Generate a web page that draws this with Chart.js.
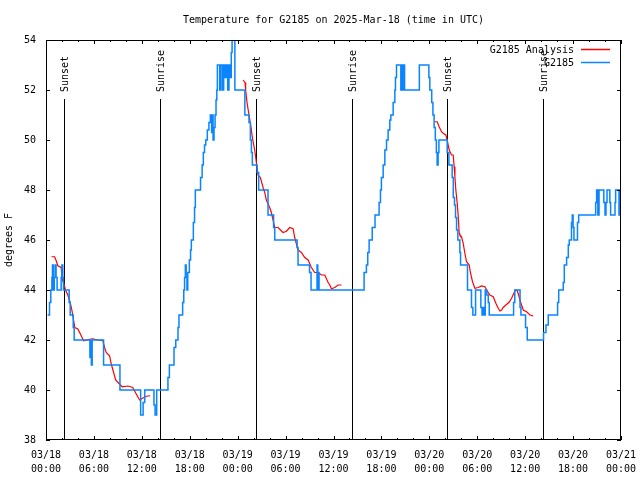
<!DOCTYPE html>
<html>
<head>
<meta charset="utf-8">
<title>Temperature for G2185</title>
<script src="https://cdn.jsdelivr.net/npm/chart.js@4.4.1/dist/chart.umd.min.js"></script>
<style>
  html, body { margin: 0; padding: 0; background: #fff; }
  canvas { display: block; }
</style>
</head>
<body>
<canvas id="tempChart" width="640" height="480"></canvas>
<script>
const chartTitle = 'Temperature for G2185 on 2025-Mar-18 (time in UTC)';

// x axis is hours since 03/18 00:00 UTC
const xTickLabels = [
  ['03/18', '00:00'], ['03/18', '06:00'], ['03/18', '12:00'], ['03/18', '18:00'],
  ['03/19', '00:00'], ['03/19', '06:00'], ['03/19', '12:00'], ['03/19', '18:00'],
  ['03/20', '00:00'], ['03/20', '06:00'], ['03/20', '12:00'], ['03/20', '18:00'],
  ['03/21', '00:00']
];

const sunTimes = [2.2, 14.27, 26.27, 38.33, 50.23, 62.27];
const sunLabels = ['Sunset', 'Sunrise', 'Sunset', 'Sunrise', 'Sunset', 'Sunrise'];

// [hour, deg F] - analysis series, null = gap between runs
const analysisReadings = [
  [0.69, 45.33], [1.07, 45.33], [1.28, 45.17], [1.48, 44.97], [1.9, 44.9],
  [2.02, 44.44], [2.19, 44.3], [2.44, 44.0], [2.73, 43.8], [3.03, 43.5],
  [3.24, 43.2], [3.45, 42.8], [3.61, 42.5], [3.99, 42.44], [4.41, 42.17],
  [4.7, 41.97], [5.45, 42.03], [5.87, 42.05], [6.5, 42.0], [7.12, 41.98],
  [7.33, 41.7], [7.54, 41.5], [7.96, 41.37], [8.17, 41.04], [8.47, 40.7],
  [8.72, 40.4], [9.21, 40.24], [9.54, 40.13], [10.26, 40.16], [10.86, 40.1],
  [11.3, 39.84], [11.72, 39.6], [12.14, 39.68], [12.56, 39.75], [13.05, 39.77],
  [18, null],
  [24.67, 52.4], [24.92, 52.3], [25.0, 52.0], [25.17, 51.5], [25.42, 51.0],
  [25.63, 50.6], [25.84, 50.1], [26.13, 49.6], [26.26, 49.3], [26.42, 48.9],
  [26.55, 48.6], [26.84, 48.5], [27.18, 48.1], [27.39, 47.9], [27.59, 47.6],
  [28.01, 47.3], [28.22, 47.1], [28.43, 46.8], [28.64, 46.5], [29.06, 46.5],
  [29.68, 46.3], [30.1, 46.35], [30.52, 46.5], [30.94, 46.45], [31.14, 46.1],
  [31.56, 45.6], [31.98, 45.5], [32.4, 45.3], [32.82, 45.2], [33.23, 44.9],
  [33.65, 44.7], [34.07, 44.7], [34.49, 44.6], [34.91, 44.6], [35.33, 44.3],
  [35.53, 44.2], [35.74, 44.05], [36.16, 44.1], [36.58, 44.2], [37.0, 44.2],
  [42, null],
  [48.69, 50.73], [48.98, 50.73], [49.23, 50.53], [49.52, 50.33], [49.73, 50.27],
  [50.07, 50.2], [50.23, 50.0], [50.49, 49.6], [50.78, 49.4], [50.99, 49.4],
  [51.11, 48.93], [51.2, 48.53], [51.32, 48.0], [51.49, 47.47], [51.61, 47.0],
  [51.74, 46.27], [51.82, 46.2], [52.03, 46.13], [52.24, 45.87], [52.45, 45.47],
  [52.66, 45.13], [52.99, 45.0], [53.16, 44.67], [53.41, 44.33], [53.7, 44.07],
  [54.12, 44.1], [54.54, 44.16], [54.96, 44.13], [55.17, 44.0], [55.58, 43.8],
  [56.0, 43.73], [56.33, 43.47], [56.63, 43.27], [56.84, 43.16], [57.05, 43.2],
  [57.25, 43.3], [57.59, 43.4], [58.01, 43.52], [58.3, 43.67], [58.59, 43.87],
  [58.8, 44.0], [59.01, 43.97], [59.18, 43.8], [59.34, 43.6], [59.55, 43.4],
  [59.76, 43.2], [60.18, 43.13], [60.6, 43.0], [61.02, 42.96]
];

// [hour, deg F] - station obs, value holds until the next entry
const stationReadings = [
  [0.2, 43], [0.44, 43.5], [0.6, 44], [0.74, 44.5], [0.81, 45], [0.91, 44],
  [1.04, 44.5], [1.14, 45], [1.26, 44.5], [1.39, 44], [1.9, 44.5], [1.99, 45],
  [2.1, 44.5], [2.19, 44], [2.9, 43.5], [3.03, 43], [3.41, 42.5], [3.53, 42],
  [5.5, 41.3], [5.58, 42], [5.68, 41], [5.78, 42], [7.21, 41], [9.26, 40],
  [11.85, 39], [12.16, 39.5], [12.36, 40], [13.52, 39.4], [13.66, 39], [13.86, 40],
  [15.27, 40.5], [15.45, 41], [16.03, 41.7], [16.25, 42], [16.53, 42.5], [16.65, 43],
  [17.11, 43.5], [17.25, 44], [17.35, 44.5], [17.45, 45], [17.55, 44.5], [17.65, 44],
  [17.75, 44.7], [17.95, 45.2], [18.1, 45.6], [18.2, 46], [18.45, 46.7], [18.6, 47.3],
  [18.7, 48], [19.35, 48.5], [19.55, 49], [19.7, 49.5], [19.85, 49.8], [20.0, 50],
  [20.2, 50.4], [20.4, 50.7], [20.58, 51], [20.66, 50.7], [20.74, 50.3], [20.82, 51],
  [20.92, 50], [21.04, 50.5], [21.17, 51], [21.29, 51.6], [21.39, 52], [21.46, 53],
  [21.75, 52], [21.87, 53], [22.08, 52], [22.25, 53], [22.41, 52.5], [22.58, 53],
  [22.75, 52], [22.91, 53], [23.04, 52.5], [23.2, 53.5], [23.3, 54.5], [23.65, 52],
  [24.9, 51], [25.42, 50.7], [25.59, 50], [25.72, 49.5], [25.84, 49], [26.43, 48.7],
  [26.63, 48], [27.8, 47], [28.5, 46.5], [28.64, 46], [31.44, 45.7], [31.56, 45],
  [33.0, 44.7], [33.19, 44], [33.94, 45], [34.03, 44], [34.1, 44.7], [34.19, 44],
  [39.83, 44.7], [40.12, 45], [40.29, 45.5], [40.46, 46], [40.85, 46.5], [41.2, 47],
  [41.71, 47.5], [41.88, 48], [42.0, 48.5], [42.22, 49], [42.43, 49.6], [42.64, 50],
  [42.84, 50.4], [43.05, 50.8], [43.18, 51], [43.47, 51.5], [43.68, 52], [43.76, 52.5],
  [43.89, 53], [44.43, 52], [44.6, 53], [44.68, 52], [44.8, 53], [44.9, 52],
  [46.75, 53], [47.94, 52.5], [48.06, 52], [48.3, 51.5], [48.45, 51], [48.6, 50.5],
  [48.75, 50], [48.88, 49.5], [48.98, 49], [49.1, 49.5], [49.2, 50], [50.24, 49.5],
  [50.45, 49], [50.86, 48.5], [51.0, 47.7], [51.15, 47.4], [51.28, 46.9], [51.41, 46.4],
  [51.57, 46], [51.82, 45.5], [51.91, 45], [52.78, 44], [53.28, 43.3], [53.45, 43],
  [53.79, 44], [54.45, 43.3], [54.6, 43], [54.73, 43.3], [54.82, 43], [55.0, 44],
  [55.2, 43.8], [55.38, 43.5], [55.5, 43], [58.55, 43.5], [58.7, 44], [59.36, 43.3],
  [59.47, 43], [60.05, 42.5], [60.26, 42], [62.3, 42.3], [62.6, 42.6], [62.89, 43],
  [64.06, 43.5], [64.2, 44], [64.77, 44.3], [64.9, 45], [65.19, 45.3], [65.4, 45.8],
  [65.52, 46], [65.8, 46.7], [65.9, 47], [66.0, 46.5], [66.11, 46], [66.55, 46.7],
  [66.7, 47], [68.83, 47.5], [68.95, 48], [69.1, 47], [69.25, 48], [69.85, 47.5],
  [70.0, 47], [70.12, 47.5], [70.25, 48], [70.6, 47.5], [70.7, 47], [71.25, 47.5],
  [71.33, 48], [71.6, 48], [71.75, 47], [71.9, 48], [72.0, 48]
];

const MONO = '"DejaVu Sans Mono", "Liberation Mono", monospace';
const RED = '#ff0000';
const BLUE = '#0a84ff';

function toPoints(rows) {
  return rows.map(r => ({ x: r[0], y: r[1] }));
}

// gnuplot look: box, inward ticks, sun lines, legend, title
const gnuplotFrame = {
  id: 'gnuplotFrame',
  beforeDatasetsDraw(chart) {
    const { ctx, chartArea: a, scales: { x } } = chart;
    ctx.save();
    ctx.strokeStyle = '#000';
    ctx.lineWidth = 1;
    sunTimes.forEach(t => {
      const px = Math.round(x.getPixelForValue(t)) + 0.5;
      ctx.beginPath();
      ctx.moveTo(px, a.top + 59);
      ctx.lineTo(px, a.bottom);
      ctx.stroke();
    });
    ctx.restore();
  },
  afterDraw(chart) {
    const { ctx, chartArea: a, scales: { x, y } } = chart;
    ctx.save();
    ctx.strokeStyle = '#000';
    ctx.lineWidth = 1;
    ctx.strokeRect(a.left + 0.5, a.top + 0.5, a.right - a.left - 1, a.bottom - a.top - 1);

    ctx.beginPath();
    for (let h = 0; h <= 72; h += 2) {
      const px = Math.round(x.getPixelForValue(h)) + 0.5;
      const len = h % 6 === 0 ? 4 : 2;
      ctx.moveTo(px, a.bottom);
      ctx.lineTo(px, a.bottom - len);
      ctx.moveTo(px, a.top);
      ctx.lineTo(px, a.top + len);
    }
    for (let v = 38; v <= 54; v += 2) {
      const py = Math.round(y.getPixelForValue(v)) + 0.5;
      ctx.moveTo(a.left, py);
      ctx.lineTo(a.left + 4, py);
      ctx.moveTo(a.right, py);
      ctx.lineTo(a.right - 4, py);
    }
    ctx.stroke();

    ctx.fillStyle = '#000';
    ctx.font = '10px ' + MONO;
    ctx.textBaseline = 'middle';
    sunTimes.forEach((t, i) => {
      const px = Math.round(x.getPixelForValue(t)) + 1;
      ctx.save();
      ctx.translate(px, a.top + 52);
      ctx.rotate(-Math.PI / 2);
      ctx.textAlign = 'left';
      ctx.fillText(sunLabels[i], 0, 0);
      ctx.restore();
    });

    // legend
    const legend = [['G2185 Analysis', RED], ['G2185', BLUE]];
    legend.forEach((item, i) => {
      const ly = a.top + 10 + i * 13;
      ctx.textAlign = 'right';
      ctx.fillText(item[0], a.right - 47, ly);
      ctx.strokeStyle = item[1];
      ctx.lineWidth = 1.5;
      ctx.beginPath();
      ctx.moveTo(a.right - 40, ly - 0.5);
      ctx.lineTo(a.right - 11, ly - 0.5);
      ctx.stroke();
    });

    ctx.textAlign = 'center';
    ctx.fillText(chartTitle, (a.left + a.right) / 2, 20);
    ctx.restore();
  }
};

const ctx = document.getElementById('tempChart').getContext('2d');
const tempChart = new Chart(ctx, {
  type: 'line',
  data: {
    datasets: [
      {
        label: 'G2185',
        data: toPoints(stationReadings),
        borderColor: BLUE,
        borderWidth: 1.5,
        stepped: 'before',
        pointRadius: 0,
        fill: false,
        order: 0
      },
      {
        label: 'G2185 Analysis',
        data: toPoints(analysisReadings),
        borderColor: RED,
        borderWidth: 1.2,
        pointRadius: 0,
        spanGaps: false,
        fill: false,
        order: 1
      }
    ]
  },
  options: {
    responsive: false,
    animation: false,
    devicePixelRatio: 1,
    layout: { padding: { top: 40, right: 19, left: 0, bottom: 0 } },
    plugins: {
      legend: { display: false },
      title: { display: false },
      tooltip: { enabled: false }
    },
    scales: {
      x: {
        type: 'linear',
        min: 0,
        max: 72,
        afterFit(scale) {
          scale.height = 40;
          scale.paddingLeft = 0;
          scale.paddingRight = 0;
        },
        grid: { display: false, drawTicks: false },
        border: { display: false },
        ticks: {
          stepSize: 6,
          autoSkip: false,
          maxRotation: 0,
          padding: 8,
          color: '#000',
          font: { family: MONO, size: 10, lineHeight: 1.4 },
          callback: v => xTickLabels[Math.round(v / 6)]
        }
      },
      y: {
        min: 38,
        max: 54,
        afterFit(scale) {
          scale.width = 46;
          scale.paddingTop = 0;
          scale.paddingBottom = 0;
        },
        grid: { display: false, drawTicks: false },
        border: { display: false },
        ticks: {
          stepSize: 2,
          padding: 10,
          color: '#000',
          font: { family: MONO, size: 10 }
        },
        title: {
          display: true,
          text: 'degrees F',
          color: '#000',
          font: { family: MONO, size: 10 },
          padding: { top: 3, bottom: 0 }
        }
      }
    }
  },
  plugins: [gnuplotFrame]
});
</script>
</body>
</html>
